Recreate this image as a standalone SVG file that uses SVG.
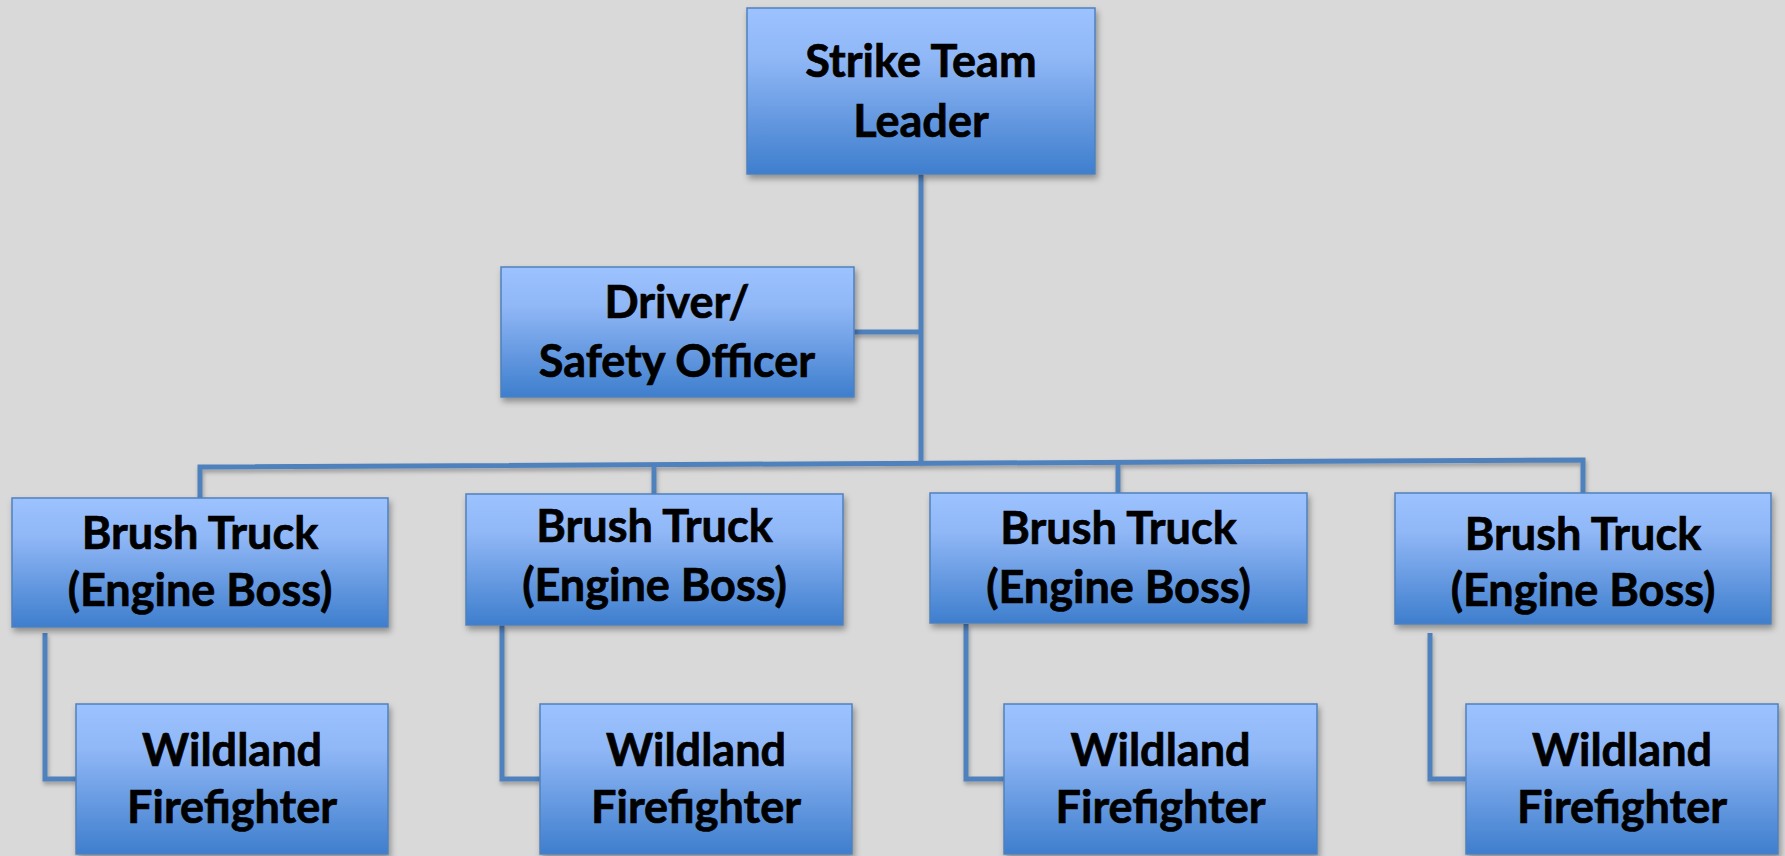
<svg xmlns="http://www.w3.org/2000/svg" width="1785" height="856" viewBox="0 0 1785 856">
  <defs>
    <linearGradient id="boxGrad" x1="0" y1="0" x2="0" y2="1">
      <stop offset="0" stop-color="#9CC2FF"/>
      <stop offset="0.3" stop-color="#90B7F6"/>
      <stop offset="1" stop-color="#3E7ECD"/>
    </linearGradient>
    <filter id="shadow" x="-10%" y="-10%" width="125%" height="130%">
      <feDropShadow dx="2" dy="4" stdDeviation="3" flood-color="#000" flood-opacity="0.35"/>
    </filter>
    <filter id="lshadow" filterUnits="userSpaceOnUse" x="0" y="0" width="1785" height="856">
      <feDropShadow dx="1" dy="3" stdDeviation="2" flood-color="#000" flood-opacity="0.3"/>
    </filter>
  </defs>
  <style>
    .box { fill: url(#boxGrad); stroke: #4F81BD; stroke-width: 1.5; filter: url(#shadow); }
    .lbl { font-family: Lato, "Liberation Sans", sans-serif; font-weight: bold; font-size: 45px; fill: #000; stroke: #000; stroke-width: 0.7; text-anchor: middle; }
    .conn { fill: none; stroke: #4F81BD; stroke-width: 5; stroke-linejoin: miter; }
  </style>
  <rect x="0" y="0" width="1785" height="856" fill="#D9D9D9"/>

  <g id="connectors" filter="url(#lshadow)">
    <line class="conn" x1="921" y1="174" x2="921" y2="463"/>
    <line class="conn" x1="854" y1="332" x2="921" y2="332"/>
    <polyline class="conn" points="200,498 200,467 1583,460 1583,493"/>
    <line class="conn" x1="654" y1="464.7" x2="654" y2="494"/>
    <line class="conn" x1="1118" y1="462.4" x2="1118" y2="493"/>
    <polyline class="conn" points="45,633 45,779 76,779"/>
    <polyline class="conn" points="502,625 502,779 540,779"/>
    <polyline class="conn" points="966,624 966,779 1004,779"/>
    <polyline class="conn" points="1430,633 1430,779 1466,779"/>
  </g>

  <g id="strike-team-leader">
    <rect class="box" x="747" y="8" width="348" height="166"/>
    <text class="lbl" x="921" y="77">Strike Team</text>
    <text class="lbl" x="921" y="137">Leader</text>
  </g>

  <g id="driver-safety-officer">
    <rect class="box" x="501" y="267" width="353" height="130"/>
    <text class="lbl" x="677" y="318">Driver/</text>
    <text class="lbl" x="677" y="377">Safety Officer</text>
  </g>

  <g id="brush-truck-1">
    <rect class="box" x="12" y="498" width="376" height="129"/>
    <text class="lbl" x="200" y="549">Brush Truck</text>
    <text class="lbl" x="200" y="606">(Engine Boss)</text>
  </g>
  <g id="brush-truck-2">
    <rect class="box" x="466" y="494" width="377" height="131"/>
    <text class="lbl" x="654.5" y="542">Brush Truck</text>
    <text class="lbl" x="654.5" y="601">(Engine Boss)</text>
  </g>
  <g id="brush-truck-3">
    <rect class="box" x="930" y="493" width="377" height="130"/>
    <text class="lbl" x="1118.5" y="544">Brush Truck</text>
    <text class="lbl" x="1118.5" y="603">(Engine Boss)</text>
  </g>
  <g id="brush-truck-4">
    <rect class="box" x="1395" y="493" width="376" height="131"/>
    <text class="lbl" x="1583" y="550">Brush Truck</text>
    <text class="lbl" x="1583" y="606">(Engine Boss)</text>
  </g>

  <g id="wildland-firefighter-1">
    <rect class="box" x="76" y="704" width="312" height="150"/>
    <text class="lbl" x="232" y="766">Wildland</text>
    <text class="lbl" x="232" y="823">Firefighter</text>
  </g>
  <g id="wildland-firefighter-2">
    <rect class="box" x="540" y="704" width="312" height="150"/>
    <text class="lbl" x="696" y="766">Wildland</text>
    <text class="lbl" x="696" y="823">Firefighter</text>
  </g>
  <g id="wildland-firefighter-3">
    <rect class="box" x="1004" y="704" width="313" height="150"/>
    <text class="lbl" x="1160.5" y="766">Wildland</text>
    <text class="lbl" x="1160.5" y="823">Firefighter</text>
  </g>
  <g id="wildland-firefighter-4">
    <rect class="box" x="1466" y="704" width="312" height="150"/>
    <text class="lbl" x="1622" y="766">Wildland</text>
    <text class="lbl" x="1622" y="823">Firefighter</text>
  </g>
</svg>
